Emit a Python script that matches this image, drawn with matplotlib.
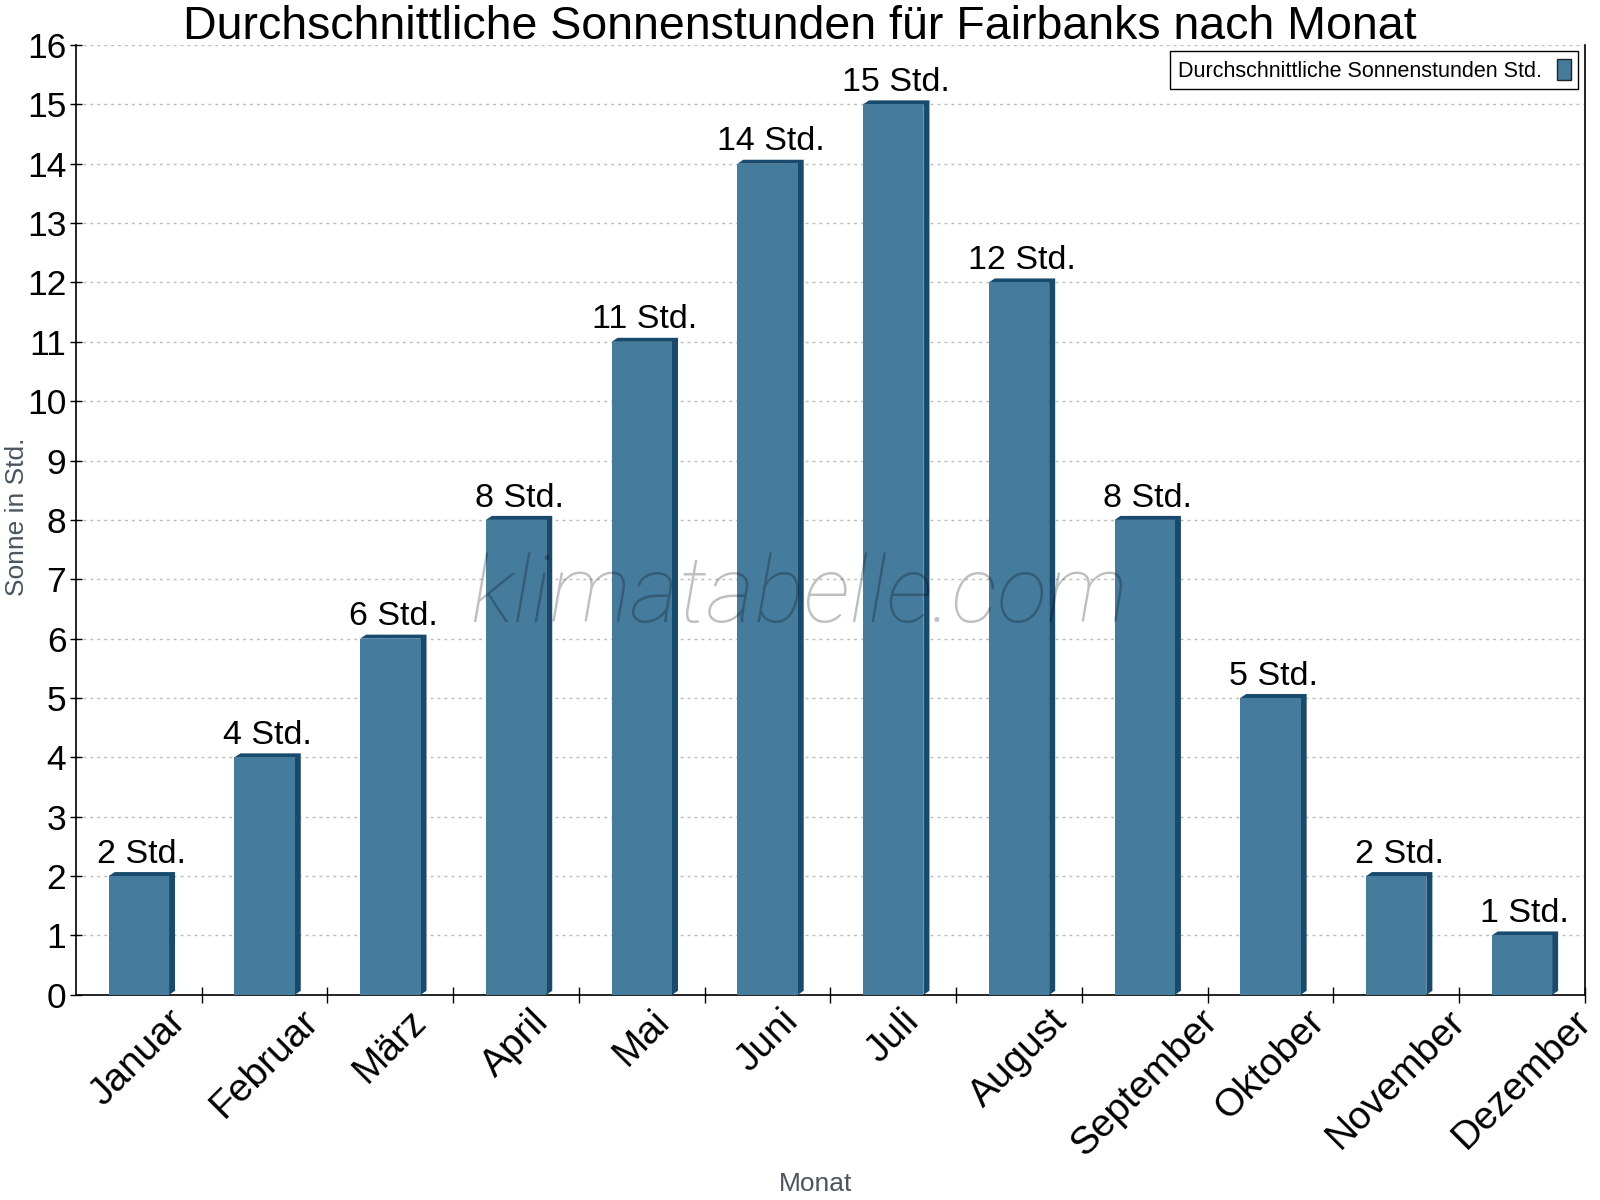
import matplotlib.pyplot as plt
from matplotlib.patches import Polygon
from matplotlib.ticker import MultipleLocator, FixedLocator

plt.rcParams['font.family'] = ['Liberation Sans', 'DejaVu Sans']

# data
monate = ['Januar', 'Februar', 'März', 'April', 'Mai', 'Juni', 'Juli',
          'August', 'September', 'Oktober', 'November', 'Dezember']
sonne = [2, 4, 6, 8, 11, 14, 15, 12, 8, 5, 2, 1]

face = '#457b9d'
dark = '#174a6c'

fig = plt.figure(figsize=(16, 12), dpi=100)
ax = fig.add_axes([0.0475, 0.171, 0.943, 0.7915])

x = list(range(len(monate)))
bw = 0.48
ax.set_xlim(-0.5, len(monate) - 0.5)
ax.set_ylim(0, 16)

# depth of the 3d look in data units (about 6 px right, 4 px up)
ax_w = fig.get_figwidth() * fig.dpi * 0.943
ax_h = fig.get_figheight() * fig.dpi * 0.7915
dx = 6 / ax_w * len(monate)
dy = 4 / ax_h * 16

for xi, h in zip(x, sonne):
    x0, x1 = xi - bw / 2, xi + bw / 2
    poly = Polygon([(x0, h), (x0 + dx, h + dy), (x1 + dx, h + dy),
                    (x1 + dx, dy), (x1, 0), (x1, h)],
                   closed=True, facecolor=dark, edgecolor='none', zorder=3)
    ax.add_patch(poly)

bars = ax.bar(x, sonne, width=bw, color=face, zorder=4,
              label='Durchschnittliche Sonnenstunden Std.')

for xi, h in zip(x, sonne):
    ax.text(xi + dx / 2, h + dy + 0.04, f'{h} Std.', ha='center', va='bottom',
            fontsize=24.5, zorder=6)

ax.yaxis.set_major_locator(MultipleLocator(1))
ax.grid(axis='y', color='#bbbbbb', linestyle=(0, (2, 3)), linewidth=1, zorder=0)
ax.tick_params(axis='y', labelsize=25.5, direction='inout', length=8, width=1,
               pad=3)

ax.set_xticks(x)
ax.set_xticklabels(monate, rotation=45, ha='center', va='top', fontsize=28)
ax.tick_params(axis='x', which='major', length=0, pad=6)
ax.xaxis.set_minor_locator(FixedLocator([i + 0.5 for i in x]))
ax.tick_params(axis='x', which='minor', direction='inout', length=12, width=1)

ax.spines['top'].set_visible(False)
for s in ['left', 'right', 'bottom']:
    ax.spines[s].set_linewidth(1.2)

fig.text(0.51, 0.003, 'Monat', fontsize=19, color='#4a5560',
         ha='center', va='bottom')
fig.text(0.003, 0.569, 'Sonne in Std.', fontsize=19, color='#4a5560',
         rotation=90, ha='left', va='center')

fig.text(0.5, 0.996, 'Durchschnittliche Sonnenstunden für Fairbanks nach Monat',
         fontsize=33.5, ha='center', va='top')

ax.text(0.479, 0.419, 'klimatabelle.com', transform=ax.transAxes,
        fontsize=67, style='italic', family='Roboto', fontweight='light',
        color='black', alpha=0.25, ha='center', va='center', zorder=7)

leg = ax.legend(loc='upper right', fontsize=15.5, markerfirst=False,
                handlelength=0.65, handleheight=1.1, fancybox=False,
                borderaxespad=0.3, framealpha=1, borderpad=0.35,
                handletextpad=0.7)
leg.get_frame().set_edgecolor('black')
leg.get_frame().set_linewidth(1)
leg.legend_handles[0].set_edgecolor('#222222')
leg.legend_handles[0].set_linewidth(1)
leg.set_zorder(8)

plt.savefig('out.png', dpi=100)
plt.close()
